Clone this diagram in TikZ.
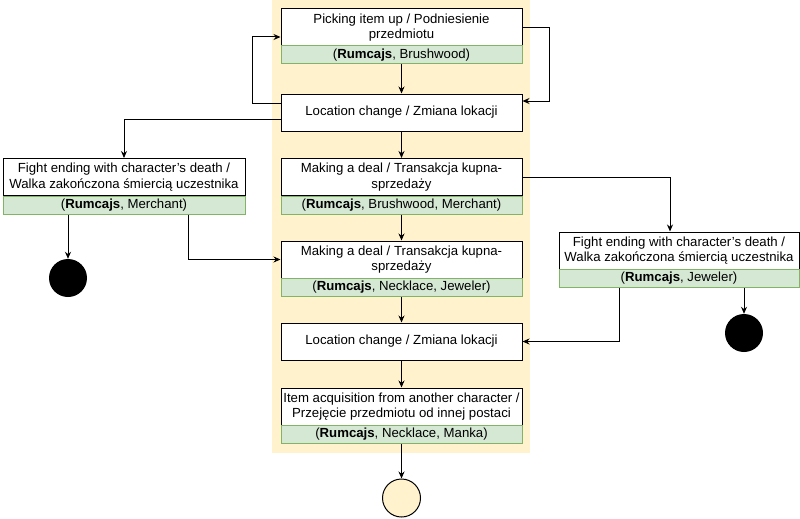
\documentclass[tikz,border=0pt]{standalone}
\usepackage{fontspec}
\setmainfont{Liberation Sans}
\usetikzlibrary{arrows.meta}
\definecolor{bgy}{HTML}{FFF2CC}
\definecolor{gfill}{HTML}{D5E8D4}
\definecolor{gline}{HTML}{82B366}
\begin{document}
\begin{tikzpicture}[x=1pt,y=-1pt, font=\fontsize{13.2}{15.5}\selectfont,
  state/.style={draw=black, fill=white, line width=1pt, minimum width=241pt, minimum height=37pt, align=center, inner sep=0pt},
  attr/.style={draw=gline, fill=gfill, line width=1pt, minimum width=241pt, minimum height=18pt, inner sep=0pt},
  arr/.style={-{Stealth[length=7pt,width=6pt]}, line width=1pt},
  endst/.style={circle, fill=black, minimum size=38pt, inner sep=0pt},
  finst/.style={circle, fill=bgy, draw=black, line width=1pt, minimum size=38pt, inner sep=0pt}]
\useasboundingbox (0,0) rectangle (800,519);
\fill[bgy] (272,0) rectangle (530,453);

% main column
\node[state] (s1) at (401.5,27.5) {Picking item up / Podniesienie\\przedmiotu};
\node[attr] (a1) at (401.5,55) {(\textbf{Rumcajs}, Brushwood)};
\node[state] (s2) at (401.5,112.5) {Location change / Zmiana lokacji};
\node[state] (s3) at (401.5,177) {Making a deal / Transakcja kupna-\\sprzedaży};
\node[attr] (a3) at (401.5,205) {(\textbf{Rumcajs}, Brushwood, Merchant)};
\node[state] (s4) at (401.5,259.5) {Making a deal / Transakcja kupna-\\sprzedaży};
\node[attr] (a4) at (401.5,287.5) {(\textbf{Rumcajs}, Necklace, Jeweler)};
\node[state] (s5) at (401.5,341.5) {Location change / Zmiana lokacji};
\node[state] (s6) at (401.5,406.5) {Item acquisition from another character /\\Przejęcie przedmiotu od innej postaci};
\node[attr] (a6) at (401.5,434.5) {(\textbf{Rumcajs}, Necklace, Manka)};
\node[finst] (fin) at (401.5,498) {};

% left branch
\node[state, minimum width=242pt] (l1) at (124,177) {Fight ending with character’s death /\\Walka zakończona śmiercią uczestnika};
\node[attr, minimum width=242pt] (la) at (124,205) {(\textbf{Rumcajs}, Merchant)};
\node[endst] (lc) at (68,278) {};

% right branch
\node[state, minimum width=240pt] (r1) at (679,250.5) {Fight ending with character’s death /\\Walka zakończona śmiercią uczestnika};
\node[attr, minimum width=240pt] (ra) at (679,278.5) {(\textbf{Rumcajs}, Jeweler)};
\node[endst] (rc) at (744,333) {};

% connectors
\draw[arr] (a1.south) -- (s2.north);
\draw[arr] ([yshift=9.5pt]s2.west) -- ++(-28,0) |- ([yshift=-9.5pt]s1.west);
\draw[arr] (s1.east) -- ++(27,0) |- ([yshift=11.5pt]s2.east);
\draw[arr] (s2.south) -- (s3.north);
\draw[arr] ([yshift=-6.5pt]s2.west) -| (l1.north);
\draw[arr] (la.south -| lc.north) -- (lc.north);
\draw[arr] ([xshift=64pt]la.south) |- (s4.west);
\draw[arr] (a3.south) -- (s4.north);
\draw[arr] (s3.east) -| ([xshift=-9pt]r1.north);
\draw[arr] (ra.south -| rc.north) -- (rc.north);
\draw[arr] ([xshift=-60pt]ra.south) |- (s5.east);
\draw[arr] (a4.south) -- (s5.north);
\draw[arr] (s5.south) -- (s6.north);
\draw[arr] (a6.south) -- (fin.north);
\end{tikzpicture}
\end{document}
